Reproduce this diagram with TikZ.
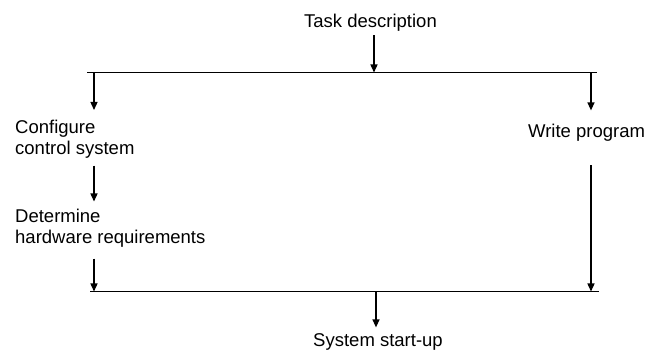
\documentclass[tikz,border=0pt]{standalone}
\usepackage{fontspec}
\setmainfont{Liberation Sans}
\usetikzlibrary{arrows.meta}

\begin{document}
\begin{tikzpicture}[x=1pt,y=-1pt,
        every node/.style={inner sep=0pt,font=\fontsize{18.5}{21}\selectfont},
        flow/.style={line width=1.3pt,-{Triangle[length=8pt,width=7pt]}},
        bar/.style={line width=1.3pt}]
        \useasboundingbox (0,0) rectangle (649,350);
        \node[anchor=base] (task) at (370.5,28) {Task description};
        \node[anchor=north west,align=left] (cfg) at (15,120) {Configure\\control system};
        \node[anchor=north west,align=left] (det) at (15,209) {Determine\\hardware requirements};
        \node[anchor=base west] (prog) at (528,138) {Write program};
        \node[anchor=base] (start) at (378,346) {System start-up};
        \coordinate (tl) at (87,72.5);
        \coordinate (tr) at (597,72.5);
        \coordinate (tm) at (374,72.5);
        \coordinate (bl) at (90,291.5);
        \coordinate (br) at (599,291.5);
        \coordinate (bm) at (376,291.5);
        \coordinate (l1) at (94,72.5);
        \coordinate (r1) at (591,72.5);
        \draw[bar] (tl) -- (tr);
        \draw[bar] (bl) -- (br);
        \draw[flow,shorten <=3pt] (tm |- task.south) -- (tm);
        \draw[flow,shorten >=10pt] (l1) -- (l1 |- cfg.north);
        \draw[flow,shorten >=14pt] (r1) -- (r1 |- prog.north);
        \draw[flow,shorten <=7pt,shorten >=7.5pt] (l1 |- cfg.south) -- (l1 |- det.north);
        \draw[flow,shorten <=11pt] (l1 |- det.south) -- (l1 |- bl);
        \draw[flow,shorten <=23pt] (r1 |- prog.south) -- (r1 |- br);
        \draw[flow,shorten >=5.5pt] (bm) -- (bm |- start.north);
    \end{tikzpicture}
\end{document}
